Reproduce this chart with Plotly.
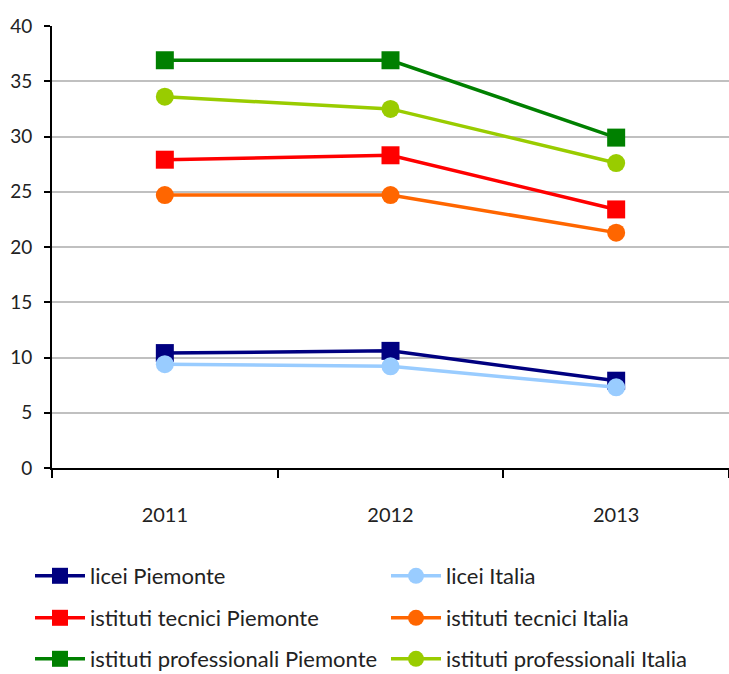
import plotly.graph_objects as go

years = ["2011", "2012", "2013"]
licei_piemonte = [10.4, 10.6, 7.9]
licei_italia = [9.4, 9.2, 7.3]
tecnici_piemonte = [27.9, 28.3, 23.4]
tecnici_italia = [24.7, 24.7, 21.3]
prof_piemonte = [36.9, 36.9, 29.9]
prof_italia = [33.6, 32.5, 27.6]

names = ["licei Piemonte", "licei Italia",
         "istituti tecnici Piemonte", "istituti tecnici Italia",
         "istituti professionali Piemonte", "istituti professionali Italia"]
values = [licei_piemonte, licei_italia, tecnici_piemonte, tecnici_italia,
          prof_piemonte, prof_italia]
colors = ["#000080", "#99ccff", "#ff0000", "#ff6600", "#008000", "#99cc00"]
symbols = ["square", "circle", "square", "circle", "square", "circle"]

FONT = "Lato, Open Sans, sans-serif"
W, H = 729, 674
row_y = [576, 618, 659]
col_x = [30, 386]

fig = go.Figure()
legends = {}
for i, (name, vals, color, sym) in enumerate(zip(names, values, colors, symbols)):
    key = "legend" if i == 0 else f"legend{i + 1}"
    fig.add_trace(go.Scatter(
        x=years, y=vals, name=name, mode="lines+markers", legend=key,
        line=dict(color=color, width=3.5),
        marker=dict(symbol=sym, size=18, color=color),
    ))
    legends[key] = dict(
        orientation="h", xref="container", yref="container",
        x=col_x[i % 2] / W, xanchor="left",
        y=1 - row_y[i // 2] / H, yanchor="middle",
        font=dict(size=22, family=FONT, color="#222222"),
        itemwidth=50, bgcolor="rgba(0,0,0,0)",
        borderwidth=0,
    )

fig.update_layout(
    width=W, height=H,
    margin=dict(l=52, r=0, t=26, b=206),
    paper_bgcolor="white", plot_bgcolor="white",
    font=dict(family=FONT, size=19, color="#222222"),
    showlegend=True,
    xaxis=dict(
        type="category", range=[-0.5, 2.5],
        showline=True, linecolor="black", linewidth=2,
        ticks="outside", ticklen=8, tickcolor="black", tickwidth=2,
        tickson="boundaries", showgrid=False, zeroline=False,
        ticklabelstandoff=28,
        tickfont=dict(size=20),
    ),
    yaxis=dict(
        range=[0, 40], dtick=5,
        showline=True, linecolor="black", linewidth=2,
        ticks="outside", ticklen=6, tickcolor="black", tickwidth=2,
        showgrid=True, gridcolor="#c0c0c0", gridwidth=2,
        zeroline=False, tickfont=dict(size=19), ticklabelstandoff=8,
    ),
)
fig.update_layout(**legends)

fig.write_html("out.html")
